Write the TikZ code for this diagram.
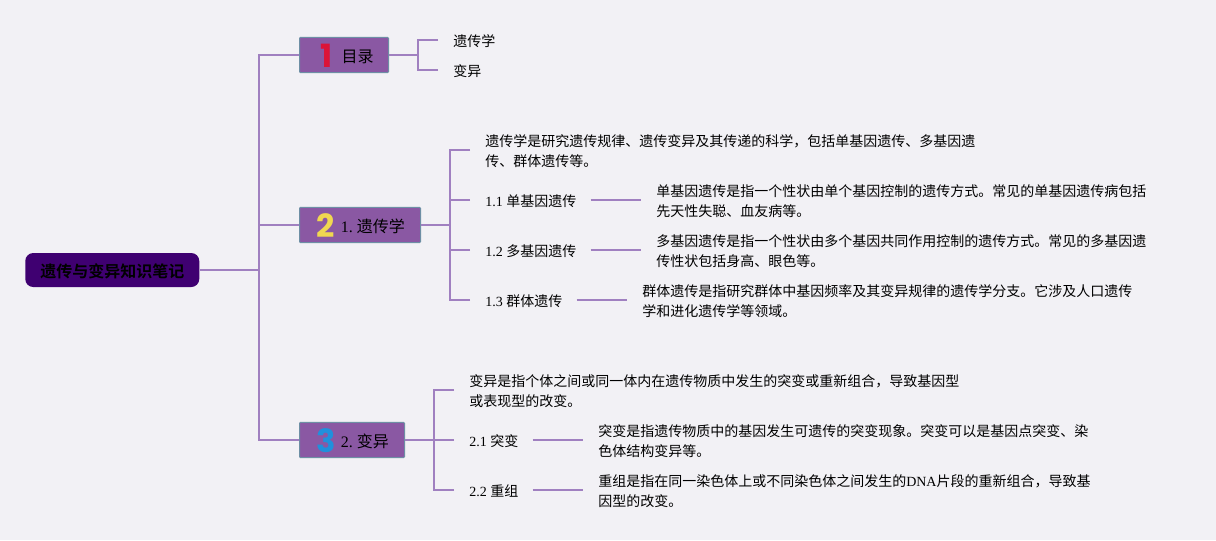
\documentclass[tikz,border=0pt]{standalone}
\usepackage{fontspec}
\setmainfont{Liberation Serif}
\newfontfamily\cjk{Noto Sans CJK SC}
\newfontfamily\cjkb{Noto Sans CJK SC Bold}
\newfontfamily\numf{Poppins Bold}
\definecolor{bgc}{HTML}{F2F1F5}
\definecolor{linec}{HTML}{A080C0}
\definecolor{topicc}{HTML}{8A58A3}
\definecolor{topicb}{HTML}{6E8FA5}
\definecolor{rootc}{HTML}{3F0071}
\definecolor{redn}{HTML}{DC1438}
\definecolor{yeln}{HTML}{F0D850}
\definecolor{blun}{HTML}{2090DC}
\tikzset{
  conn/.style={draw=linec,line width=1.5pt*0.75},
  rootbox/.style={fill=rootc,rounded corners=6pt,minimum width=130.5pt,minimum height=25.5pt,inner sep=0pt,font=\cjkb\fontsize{12pt}{14pt}\selectfont,anchor=west},
  topicbox/.style={fill=topicc,draw=topicb,line width=0.75pt,rounded corners=0.75pt,minimum height=26.5pt,inner sep=0pt,align=left,font=\fontsize{12pt}{14pt}\selectfont,anchor=west},
  leaf/.style={inner xsep=11.25pt,inner ysep=0pt,anchor=west,align=left,font=\fontsize{10.5pt}{15pt}\selectfont},
  numeral/.style={inner sep=0pt,font=\numf\fontsize{24pt}{26pt}\selectfont},
}
\newcommand{\up}[1]{([yshift=0.75pt]#1)}
\newcommand{\upl}[1]{([xshift=-0.75pt,yshift=0.75pt]#1)}
\newcommand{\topictext}[3]{\hspace*{#1}\raisebox{#2}[0pt][0pt]{#3}}
\begin{document}
\begin{tikzpicture}[x=0.75pt,y=-0.75pt]
\useasboundingbox[fill=bgc] (0,0) rectangle (1216,540);
\node[rootbox] (root) at (25,270) {\raisebox{-5.3pt}[0pt][0pt]{遗传与变异知识笔记}};
\node[topicbox,text width=66.75pt] (t1) at (299,55) {\topictext{31.5pt}{-5.6pt}{\cjk 目录}};
\node[topicbox,text width=90.75pt] (t2) at (299,225) {\topictext{31pt}{-5.3pt}{1.\hspace{3pt}{\cjk 遗传学}}};
\node[topicbox,text width=78.75pt] (t3) at (299,440) {\topictext{31pt}{-5.3pt}{2.\hspace{3pt}{\cjk 变异}}};
\node[numeral,text=redn] (n1) at (327,55.5) {1};
\node[numeral,text=yeln] (n2) at (326,226) {2};
\node[numeral,text=blun] (n3) at (326,441) {3};
\coordinate (trunk) at (259,270);
\draw[conn] (root.east) -- (trunk);
\foreach \t in {t1,t2,t3}{\draw[conn] (trunk) |- (\t.west);}
% topic 1
\node[leaf] (a1) at (438,41) {\cjk 遗传学};
\node[leaf] (a2) at (438,71) {\cjk 变异};
\coordinate (ba) at (418,55);
\draw[conn] (t1.east) -- (ba);
\draw[conn] \up{a1.west} -| (ba);
\draw[conn] \up{a2.west} -| (ba);
% topic 2
\node[leaf] (b0) at (470,151) {\cjk 遗传学是研究遗传规律、遗传变异及其传递的科学，包括单基因遗传、多基因遗\\\cjk 传、群体遗传等。};
\node[leaf] (b1) at (470,201) {1.1 {\cjk 单基因遗传}};
\node[leaf] (b2) at (470,251) {1.2 {\cjk 多基因遗传}};
\node[leaf] (b3) at (470,301) {1.3 {\cjk 群体遗传}};
\coordinate (bb) at (450,225);
\draw[conn] (t2.east) -- (bb);
\foreach \t in {b0,b1,b2,b3}{\draw[conn] \up{\t.west} -| (bb);}
\node[leaf] (c1) at (641,201) {\cjk 单基因遗传是指一个性状由单个基因控制的遗传方式。常见的单基因遗传病包括\\\cjk 先天性失聪、血友病等。};
\node[leaf] (c2) at (641,251) {\cjk 多基因遗传是指一个性状由多个基因共同作用控制的遗传方式。常见的多基因遗\\\cjk 传性状包括身高、眼色等。};
\node[leaf] (c3) at (627,301) {\cjk 群体遗传是指研究群体中基因频率及其变异规律的遗传学分支。它涉及人口遗传\\\cjk 学和进化遗传学等领域。};
\draw[conn] \upl{b1.east} -- \up{c1.west};
\draw[conn] \upl{b2.east} -- \up{c2.west};
\draw[conn] \upl{b3.east} -- \up{c3.west};
% topic 3
\node[leaf] (d0) at (454,391) {\cjk 变异是指个体之间或同一体内在遗传物质中发生的突变或重新组合，导致基因型\\\cjk 或表现型的改变。};
\node[leaf] (d1) at (454,441) {2.1 {\cjk 突变}};
\node[leaf] (d2) at (454,491) {2.2 {\cjk 重组}};
\coordinate (bd) at (434,440);
\draw[conn] (t3.east) -- (bd);
\foreach \t in {d0,d1,d2}{\draw[conn] \up{\t.west} -| (bd);}
\node[leaf] (e1) at (583,441) {\cjk 突变是指遗传物质中的基因发生可遗传的突变现象。突变可以是基因点突变、染\\\cjk 色体结构变异等。};
\node[leaf] (e2) at (583,491) {{\cjk 重组是指在同一染色体上或不同染色体之间发生的}DNA{\cjk 片段的重新组合，导致基}\\\cjk 因型的改变。};
\draw[conn] \upl{d1.east} -- \up{e1.west};
\draw[conn] \upl{d2.east} -- \up{e2.west};
\end{tikzpicture}
\end{document}
